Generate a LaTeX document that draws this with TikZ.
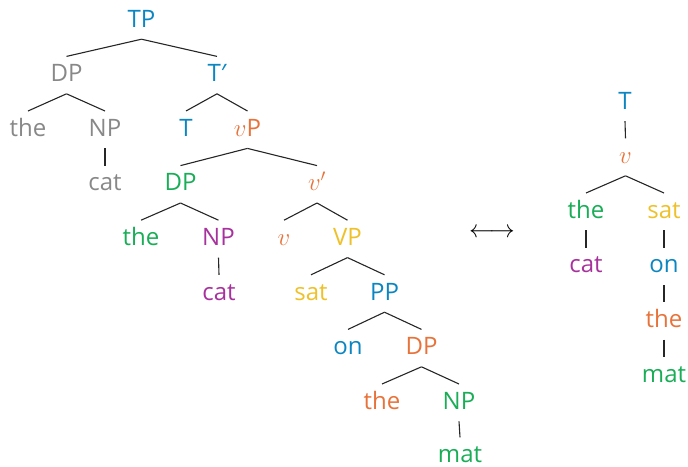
\documentclass[tikz,border=0pt]{standalone}
\usepackage{fontspec}
\setmainfont{Open Sans}
\newfontfamily\primefont{Noto Sans}
\definecolor{cblue}{HTML}{0B86C2}
\definecolor{cgray}{HTML}{888888}
\definecolor{cgreen}{HTML}{19AD57}
\definecolor{cpurple}{HTML}{A8329D}
\definecolor{corange}{HTML}{E8733A}
\definecolor{cyellow}{HTML}{EEC12A}
\begin{document}
\begin{tikzpicture}[x=1pt,y=-1pt,
  lbl/.style={font=\fontsize{24}{28}\selectfont, anchor=base, inner sep=0pt, text height=25pt, text depth=12pt},
  leaf/.style={lbl, text depth=0pt},
  br/.style={draw=black!85, line width=1.1pt}]
\useasboundingbox (0,0) rectangle (688,466);
% left tree
\node[lbl,text=cblue] (TP) at (141.5,27) {TP};
\node[lbl,text=cgray] (DPa) at (66.5,81.6) {DP};
\node[lbl,text=cblue] (Tbar) at (217,81.6) {T{\primefont ′}};
\node[lbl,text=cgray] (thea) at (28,136.2) {the};
\node[lbl,text=cgray] (NPa) at (105,136.2) {NP};
\node[lbl,text=cblue] (T) at (186,136.2) {T};
\node[lbl,text=corange] (vP) at (247.5,136.2) {$v$P};
\node[lbl,text=cgray] (cata) at (105,190.8) {cat};
\node[lbl,text=cgreen] (DPb) at (180.5,190.8) {DP};
\node[lbl,text=corange] (vbar) at (317,190.8) {$v'$};
\node[lbl,text=cgreen] (theb) at (141,245.4) {the};
\node[lbl,text=cpurple] (NPb) at (218.5,245.4) {NP};
\node[lbl,text=corange] (v) at (284,245.4) {$v$};
\node[lbl,text=cyellow] (VP) at (347.5,245.4) {VP};
\node[lbl,text=cpurple] (catb) at (219,300) {cat};
\node[lbl,text=cyellow] (sat) at (311,300) {sat};
\node[lbl,text=cblue] (PP) at (384.5,300) {PP};
\node[lbl,text=cblue] (on) at (348,354.6) {on};
\node[lbl,text=corange] (DPc) at (421.5,354.6) {DP};
\node[lbl,text=corange] (thec) at (382,409.2) {the};
\node[lbl,text=cgreen] (NPc) at (459,409.2) {NP};
\node[leaf,text=cgreen] (mat) at (460,462.5) {mat};
\draw[br] (TP.south) -- (DPa.north);
\draw[br] (TP.south) -- (Tbar.north);
\draw[br] (DPa.south) -- (thea.north);
\draw[br] (DPa.south) -- (NPa.north);
\draw[br] (NPa.south) -- (cata.north);
\draw[br] (Tbar.south) -- (T.north);
\draw[br] (Tbar.south) -- (vP.north);
\draw[br] (vP.south) -- (DPb.north);
\draw[br] (vP.south) -- (vbar.north);
\draw[br] (DPb.south) -- (theb.north);
\draw[br] (DPb.south) -- (NPb.north);
\draw[br] (NPb.south) -- (catb.north);
\draw[br] (vbar.south) -- (v.north);
\draw[br] (vbar.south) -- (VP.north);
\draw[br] (VP.south) -- (sat.north);
\draw[br] (VP.south) -- (PP.north);
\draw[br] (PP.south) -- (on.north);
\draw[br] (PP.south) -- (DPc.north);
\draw[br] (DPc.south) -- (thec.north);
\draw[br] (DPc.south) -- (NPc.north);
\draw[br] (NPc.south) -- (mat.north);
% arrow
\node[font=\fontsize{27}{30}\selectfont, inner sep=0pt] (arr) at (492,233) {$\longleftrightarrow$};
% right tree
\node[lbl,text=cblue] (rT) at (625,109) {T};
\node[lbl,text=corange] (rv) at (625.5,163.6) {$v$};
\node[lbl,text=cgreen] (rthe) at (586,218.2) {the};
\node[lbl,text=cyellow] (rsat) at (664,218.2) {sat};
\node[lbl,text=cpurple] (rcat) at (586,272.8) {cat};
\node[lbl,text=cblue] (ron) at (664,272.8) {on};
\node[lbl,text=corange] (rthe2) at (664,327.4) {the};
\node[leaf,text=cgreen] (rmat) at (664,382) {mat};
\draw[br] (rT.south) -- (rv.north);
\draw[br] (rv.south) -- (rthe.north);
\draw[br] (rv.south) -- (rsat.north);
\draw[br] (rthe.south) -- (rcat.north);
\draw[br] (rsat.south) -- (ron.north);
\draw[br] (ron.south) -- (rthe2.north);
\draw[br] (rthe2.south) -- (rmat.north);
\end{tikzpicture}
\end{document}
